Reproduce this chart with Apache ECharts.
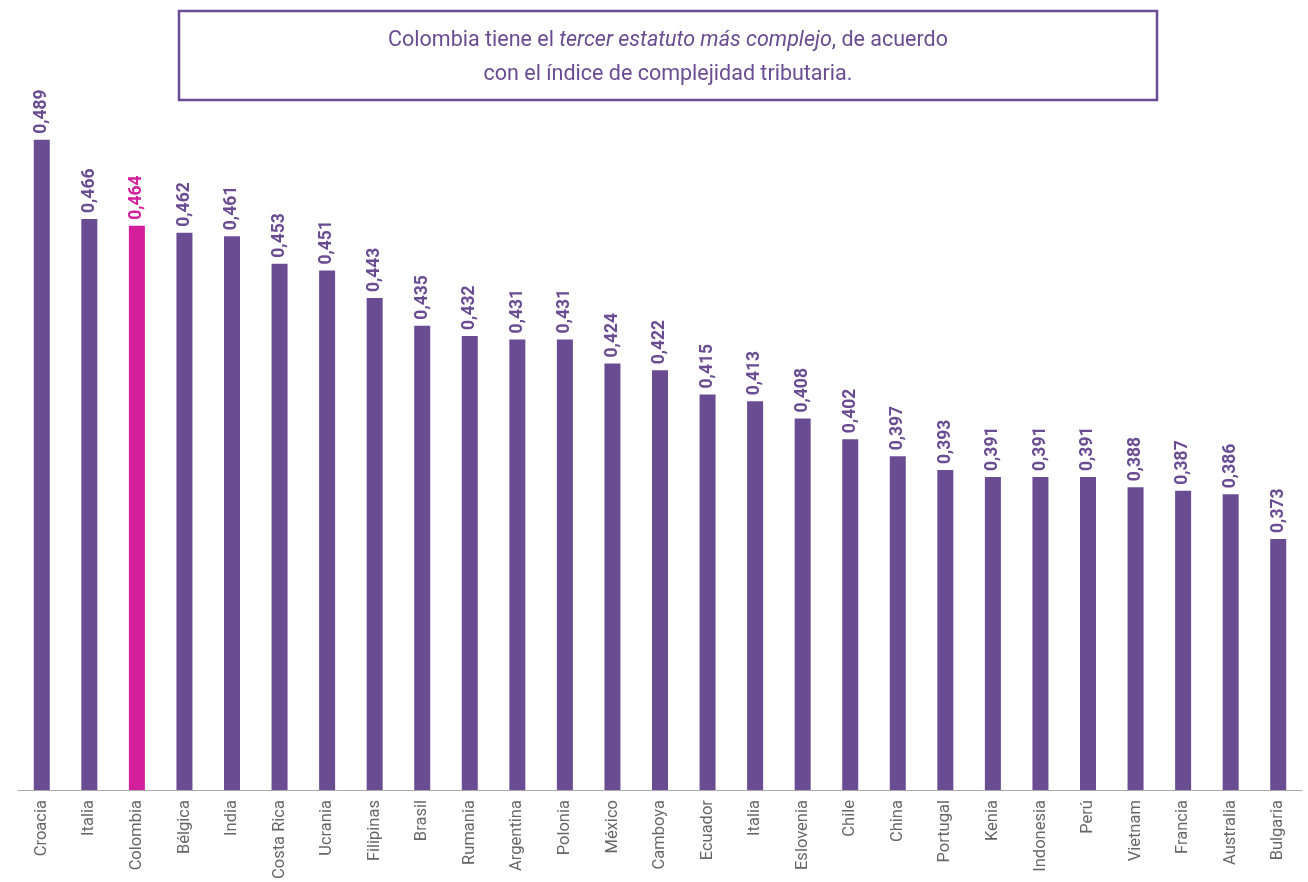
<!DOCTYPE html>
<html><head><meta charset="utf-8">
<script src="https://cdn.jsdelivr.net/npm/echarts@6/dist/echarts.min.js"></script>
<style>html,body{margin:0;padding:0;background:#fff}#c{width:1308px;height:882px}</style>
</head><body><div id="c"></div>
<script>
const categories = ["Croacia","Italia","Colombia","Bélgica","India","Costa Rica","Ucrania","Filipinas","Brasil","Rumania","Argentina","Polonia","México","Camboya","Ecuador","Italia","Eslovenia","Chile","China","Portugal","Kenia","Indonesia","Perú","Vietnam","Francia","Australia","Bulgaria"];
const values = [0.489,0.466,0.464,0.462,0.461,0.453,0.451,0.443,0.435,0.432,0.431,0.431,0.424,0.422,0.415,0.413,0.408,0.402,0.397,0.393,0.391,0.391,0.391,0.388,0.387,0.386,0.373];
const highlightIndex = 2;
const purple = "#6a4c93", pink = "#d41f9c";

const chart = echarts.init(document.getElementById('c'), null, {renderer:'canvas'});
chart.setOption({
  animation:false,
  backgroundColor:'#fff',
  grid:{left:18,right:6,top:102,bottom:90,containLabel:false},
  xAxis:{type:'category',data:categories,
    axisLine:{lineStyle:{color:'#aaa',width:1}},axisTick:{show:false},
    axisLabel:{rotate:90,interval:0,color:'#666',fontSize:16.5,fontFamily:'Roboto',margin:10}},
  yAxis:{type:'value',min:0.3,max:0.5,show:false,splitLine:{show:false}},
  series:[{type:'bar',barWidth:16,
    data:values.map((v,i)=>({value:v,itemStyle:{color:i===highlightIndex?pink:purple},
      label:{color:i===highlightIndex?pink:purple}})),
    label:{show:true,position:'top',rotate:90,align:'left',verticalAlign:'middle',distance:6,
      fontWeight:'bold',fontSize:17.5,fontFamily:'Roboto',
      formatter:p=>p.value.toFixed(3).replace('.',',')}}],
  graphic:[
    {type:'rect',shape:{x:179,y:11,width:978,height:89},style:{fill:'#fff',stroke:purple,lineWidth:2.5}},
    {type:'text',x:668,y:41,style:{text:'{n|Colombia tiene el }{i|tercer estatuto más complejo}{n|, de acuerdo}',
      align:'center',verticalAlign:'middle',
      rich:{n:{fontSize:21.5,fontFamily:'Roboto',fill:purple},i:{fontSize:21.5,fontFamily:'Roboto',fontStyle:'italic',fill:purple}}}},
    {type:'text',x:668,y:75,style:{text:'con el índice de complejidad tributaria.',align:'center',verticalAlign:'middle',
      fontSize:21.5,fontFamily:'Roboto',fill:purple}}
  ]
});
</script></body></html>
